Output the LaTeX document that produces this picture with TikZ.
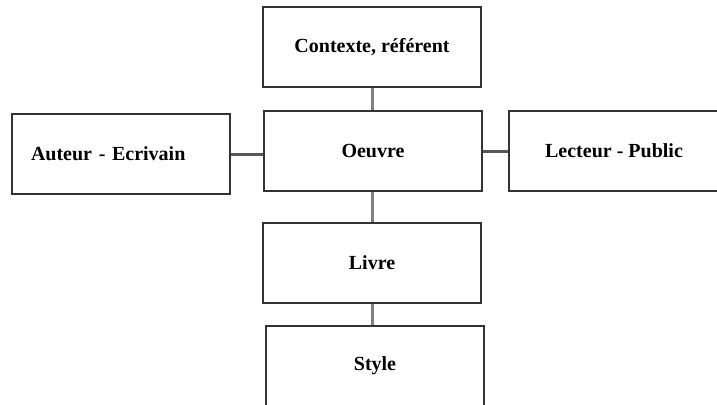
\documentclass[tikz,border=0pt]{standalone}
\usepackage{fontspec}
\setmainfont{Liberation Serif}
\tikzset{
	boite/.style={draw=black!80, line width=1.3pt, rectangle, minimum width=218pt, minimum height=80pt, font=\fontsize{20}{23}\selectfont\bfseries},
	lienv/.style={draw=black!50, line width=3pt},
	lienh/.style={draw=black!65, line width=3pt}
}
\begin{document}
\begin{tikzpicture}[x=1pt, y=-1pt]
		\useasboundingbox (0,0) rectangle (717,404);
		\node[boite] (contexte) at (372,47) {Contexte, référent};
		\node[boite] (oeuvre) at (373,151) {Oeuvre};
		\node[boite, text width=180pt, inner xsep=19pt, align=left] (auteur) at (121,154) {Auteur - Ecrivain};
		\node[boite, minimum width=210pt] (lecteur) at (614,151) {Lecteur - Public};
		\node[boite] (livre) at (372,263) {Livre};
		\node[boite] (style) at (375,366) {Style};
		\draw [lienv] (contexte.south)--(contexte.south |- oeuvre.north);
		\draw [lienv] (livre.north |- oeuvre.south)--(livre.north);
		\draw [lienv] (livre.south)--(livre.south |- style.north);
		\draw [lienh] (auteur.east)--(auteur.east -| oeuvre.west);
		\draw [lienh] (oeuvre.east)--(oeuvre.east -| lecteur.west);
	\end{tikzpicture}
\end{document}
